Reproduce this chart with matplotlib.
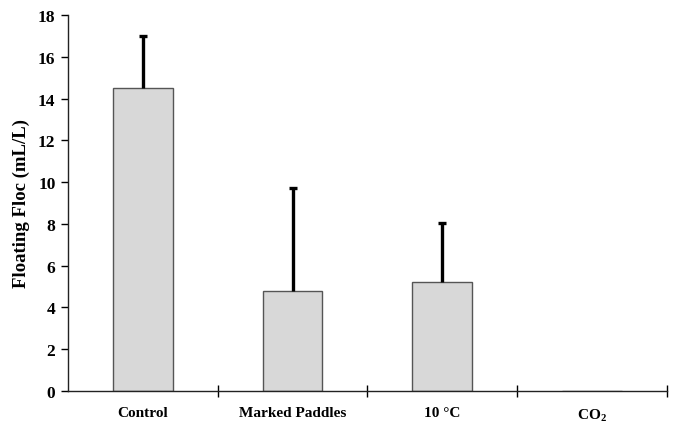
import matplotlib.pyplot as plt
import numpy as np

plt.rcParams['font.family'] = ['Liberation Serif', 'DejaVu Serif']
plt.rcParams['font.weight'] = 'bold'
plt.rcParams['mathtext.fontset'] = 'custom'
plt.rcParams['mathtext.rm'] = 'Liberation Serif:bold'
plt.rcParams['mathtext.bf'] = 'Liberation Serif:bold'

# data
treatments = ['Control', 'Marked Paddles', '10 \u00b0C', r'CO$_\mathbf{2}$']
floc_mean = [14.5, 4.8, 5.2, 0.0]
floc_sd = [2.5, 4.9, 2.85, 0.0]
y_ticks = [0, 2, 4, 6, 8, 10, 12, 14, 16, 18]

fig = plt.figure(figsize=(6.77, 4.31), dpi=100)
ax = fig.add_axes([0.1004, 0.0905, 0.8846, 0.8725])

x = np.arange(len(treatments))
ax.bar(x, floc_mean, width=0.4, color='#d8d8d8', edgecolor='#555555', linewidth=1.0, zorder=2)
err = np.array(floc_sd)
show = err > 0
_, caps, _ = ax.errorbar(x[show], np.array(floc_mean)[show],
                         yerr=[np.zeros(show.sum()), err[show]],
                         fmt='none', ecolor='black', elinewidth=2.4, capsize=3,
                         capthick=2.4, zorder=3)
# only the upper cap is drawn in the original
caps[0].set_visible(False)

ax.set_xlim(-0.5, 3.5)
ax.set_ylim(0, 18)
ax.set_yticks(y_ticks)
ax.set_xticks(x)
ax.set_xticklabels(treatments)
ax.set_xticks([0.5, 1.5, 2.5, 3.5], minor=True)
ax.tick_params(axis='x', which='major', length=0, pad=11, labelsize=11)
ax.tick_params(axis='x', which='minor', direction='inout', length=8, width=1)
ax.tick_params(axis='y', direction='out', length=5, width=1, labelsize=12.5, pad=4)
ax.set_ylabel('Floating Floc (mL/L)', fontsize=13.5, fontweight='bold', labelpad=6)

for s in ['top', 'right']:
    ax.spines[s].set_visible(False)
for s in ['left', 'bottom']:
    ax.spines[s].set_linewidth(1.0)
    ax.spines[s].set_color('#222222')

fig.savefig('out.png', dpi=100)
